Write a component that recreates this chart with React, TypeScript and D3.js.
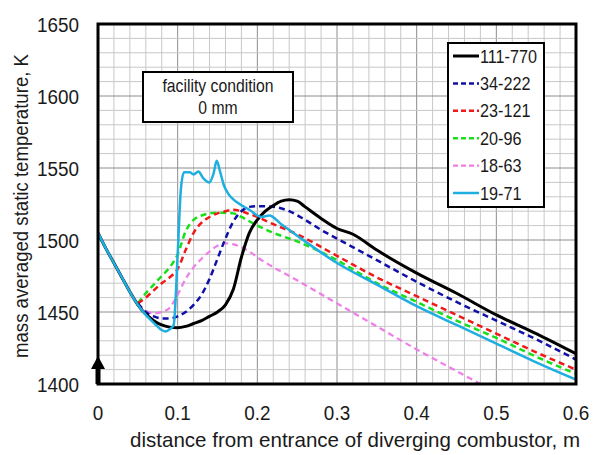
import React from "react";
import * as d3 from "d3";

const xTicks = [0, 0.1, 0.2, 0.3, 0.4, 0.5, 0.6];
const yTicks = [1400, 1450, 1500, 1550, 1600, 1650];

const seriesNames = ["111-770", "34-222", "23-121", "20-96", "18-63", "19-71"];

const black111: [number, number][] = [
  [0, 1505], [0.01, 1494], [0.02, 1484], [0.03, 1474], [0.04, 1464], [0.05, 1455],
  [0.06, 1448.5], [0.07, 1444], [0.08, 1441], [0.09, 1439.5], [0.1, 1439], [0.11, 1440],
  [0.12, 1442], [0.13, 1444], [0.14, 1447], [0.15, 1450], [0.16, 1455], [0.17, 1466],
  [0.18, 1488], [0.19, 1505], [0.2, 1514], [0.21, 1520], [0.22, 1524], [0.23, 1527],
  [0.24, 1528], [0.25, 1527], [0.26, 1523], [0.28, 1515], [0.3, 1508], [0.32, 1504],
  [0.35, 1493], [0.4, 1477], [0.45, 1463], [0.5, 1448], [0.55, 1435], [0.6, 1421],
];
const blue34: [number, number][] = [
  [0.05, 1456], [0.06, 1450], [0.07, 1447], [0.08, 1445.5], [0.09, 1445.5], [0.1, 1447],
  [0.11, 1450], [0.12, 1455], [0.13, 1462], [0.14, 1473], [0.15, 1487], [0.16, 1501],
  [0.17, 1513], [0.18, 1520], [0.19, 1523], [0.2, 1523.5], [0.22, 1523], [0.24, 1520],
  [0.26, 1514], [0.28, 1507], [0.3, 1501], [0.35, 1486], [0.4, 1471], [0.45, 1457],
  [0.5, 1444], [0.55, 1431], [0.6, 1417],
];
const red23: [number, number][] = [
  [0.05, 1456], [0.06, 1460], [0.07, 1465], [0.08, 1470], [0.09, 1474], [0.1, 1480],
  [0.11, 1493], [0.12, 1505], [0.13, 1512], [0.14, 1516], [0.15, 1518.5], [0.16, 1520],
  [0.17, 1521], [0.18, 1520], [0.19, 1518], [0.2, 1516], [0.22, 1511], [0.25, 1504],
  [0.3, 1489], [0.35, 1474], [0.4, 1461], [0.45, 1448], [0.5, 1435], [0.55, 1422], [0.6, 1410],
];
const green20: [number, number][] = [
  [0.05, 1456], [0.06, 1463], [0.07, 1469], [0.08, 1475], [0.09, 1481], [0.1, 1490],
  [0.11, 1506], [0.12, 1514], [0.13, 1517], [0.14, 1518.5], [0.15, 1519], [0.16, 1519],
  [0.17, 1518.5], [0.18, 1516], [0.2, 1510], [0.22, 1505], [0.25, 1499], [0.3, 1486],
  [0.35, 1470], [0.4, 1457], [0.45, 1444], [0.5, 1432], [0.55, 1419], [0.6, 1407],
];
const pink18: [number, number][] = [
  [0.05, 1455], [0.06, 1451], [0.07, 1449], [0.08, 1450], [0.09, 1453], [0.1, 1462],
  [0.11, 1473], [0.12, 1481], [0.13, 1487], [0.14, 1492], [0.15, 1496], [0.16, 1497.7],
  [0.17, 1497], [0.18, 1495], [0.19, 1492], [0.2, 1488], [0.25, 1472], [0.3, 1456],
  [0.35, 1440], [0.4, 1424], [0.45, 1409], [0.48, 1400],
];
const cyan19: [number, number][] = [
  [0, 1505], [0.01, 1494], [0.02, 1484], [0.03, 1474], [0.04, 1464], [0.05, 1455],
  [0.06, 1448], [0.07, 1442.5], [0.08, 1437.5], [0.085, 1436.5], [0.09, 1438], [0.095, 1441],
  [0.1, 1490], [0.104, 1535], [0.108, 1547], [0.115, 1547], [0.12, 1545.5], [0.126, 1547.5],
  [0.132, 1543], [0.14, 1540], [0.145, 1546], [0.149, 1555], [0.153, 1548], [0.158, 1538],
  [0.165, 1531], [0.175, 1526], [0.19, 1521], [0.205, 1516], [0.215, 1517], [0.23, 1511],
  [0.25, 1503], [0.3, 1484], [0.35, 1469], [0.4, 1454], [0.45, 1441], [0.5, 1428],
  [0.55, 1415], [0.6, 1403],
];

const seriesData = [black111, blue34, red23, green20, pink18, cyan19];
const seriesColors = ["#000000", "#1010a8", "#f01818", "#18e018", "#ee7ee8", "#1eaee0"];
const seriesDashed = [false, true, true, true, true, false];
const seriesWidths = [3, 2.5, 2.5, 2.5, 2.2, 2.5];
const drawOrder = [4, 3, 2, 1, 0, 5];

const W = 595;
const H = 455;
const L = 98, R = 576, T = 24, B = 384;
const FONT = "'Liberation Sans', Arial, sans-serif";

function Txt(props: {
  x: number; y: number; size: number; sx?: number; anchor?: string; children: React.ReactNode;
}) {
  const { x, y, size, sx = 0.9, anchor = "start", children } = props;
  return (
    <text
      transform={`translate(${x},${y}) scale(${sx},1)`}
      textAnchor={anchor}
      fontSize={size}
      fill="#1a1a1a"
    >
      {children}
    </text>
  );
}

export default function App() {
  const x = d3.scaleLinear().domain([0, 0.6]).range([L, R]);
  const y = d3.scaleLinear().domain([1400, 1650]).range([B, T]);
  const line = d3
    .line<[number, number]>()
    .x((d) => x(d[0]))
    .y((d) => y(d[1]))
    .curve(d3.curveMonotoneX);

  const xMinor = d3.range(0, 31).map((i) => i * 0.02);
  const yMinor = d3.range(0, 26).map((i) => 1400 + i * 10);

  const legX = 448, legY = 43, legW = 96, legH = 164;

  return (
    <svg
      width={W}
      height={H}
      style={{ position: "absolute", left: 0, top: 0, background: "#fff" }}
      fontFamily={FONT}
    >
      <rect x={0} y={0} width={W} height={H} fill="#fff" />
      {xMinor.map((v, i) => (
        <line key={"xm" + i} x1={x(v)} x2={x(v)} y1={T} y2={B}
          stroke={i % 5 === 0 ? "#8c8c8c" : "#c8c8c8"} strokeWidth={1} />
      ))}
      {yMinor.map((v, i) => (
        <line key={"ym" + i} x1={L} x2={R} y1={y(v)} y2={y(v)}
          stroke={i % 5 === 0 ? "#8c8c8c" : "#c8c8c8"} strokeWidth={1} />
      ))}

      <defs>
        <clipPath id="plotclip">
          <rect x={L} y={T} width={R - L} height={B - T} />
        </clipPath>
      </defs>
      <g clipPath="url(#plotclip)">
        {drawOrder.map((si) => (
          <path
            key={seriesNames[si]}
            d={line(seriesData[si]) || ""}
            fill="none"
            stroke={seriesColors[si]}
            strokeWidth={seriesWidths[si]}
            strokeDasharray={seriesDashed[si] ? "6,4" : undefined}
            strokeLinejoin="round"
          />
        ))}
      </g>

      <rect x={L} y={T} width={R - L} height={B - T} fill="none" stroke="#000" strokeWidth={3} />

      <line x1={x(0)} x2={x(0)} y1={B} y2={B - 18} stroke="#000" strokeWidth={5} />
      <path d={`M${x(0) - 7},${B - 15} L${x(0)},${B - 28} L${x(0) + 7},${B - 15} Z`} fill="#000" />

      {yTicks.map((v) => (
        <Txt key={"yt" + v} x={79} y={y(v) + 8} size={21} anchor="end">{v}</Txt>
      ))}
      {xTicks.map((v) => (
        <Txt key={"xt" + v} x={x(v)} y={420} size={21} anchor="middle">
          {v === 0 ? "0" : v.toFixed(1)}
        </Txt>
      ))}

      <text x={355} y={447} textAnchor="middle" fontSize={21} fill="#1a1a1a"
        textLength={450} lengthAdjust="spacingAndGlyphs">
        distance from entrance of diverging combustor, m
      </text>
      <text transform={`translate(28,206) rotate(-90)`} textAnchor="middle" fontSize={21} fill="#1a1a1a"
        textLength={304} lengthAdjust="spacingAndGlyphs">
        mass averaged static temperature, K
      </text>

      <rect x={143} y={72} width={150} height={50} fill="#fff" stroke="#000" strokeWidth={2} />
      <Txt x={218} y={92} size={18} sx={0.875} anchor="middle">facility condition</Txt>
      <Txt x={218} y={114} size={18} sx={0.875} anchor="middle">0 mm</Txt>

      <rect x={legX} y={legY} width={legW} height={legH} fill="#fff" stroke="#000" strokeWidth={2} />
      {seriesNames.map((name, i) => {
        const cy = 56 + i * 27.4;
        return (
          <g key={"leg" + name}>
            <line x1={453} x2={479} y1={cy} y2={cy} stroke={seriesColors[i]}
              strokeWidth={seriesWidths[i]} strokeDasharray={seriesDashed[i] ? "5,3" : undefined} />
            <Txt x={480} y={cy + 6.5} size={18} sx={0.9}>{name}</Txt>
          </g>
        );
      })}
    </svg>
  );
}
